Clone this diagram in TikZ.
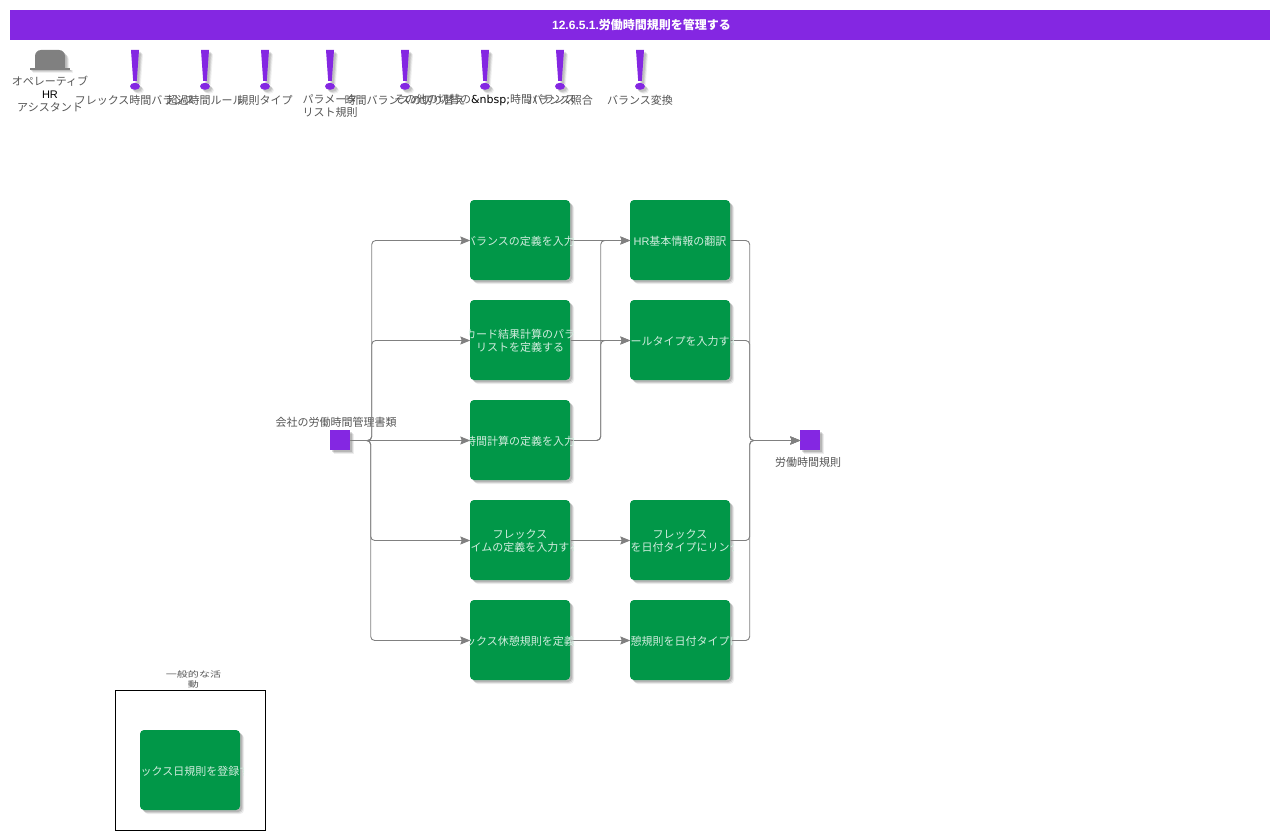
\documentclass[tikz,border=0pt]{standalone}
\usepackage{fontspec}
\setmainfont{Noto Sans CJK JP}
\newfontfamily\lat{Liberation Sans}
\newfontfamily\dej{DejaVu Sans}
\usetikzlibrary{arrows.meta,shadows}
\definecolor{purp}{HTML}{8427E2}
\definecolor{grn}{HTML}{019748}
\definecolor{lin}{HTML}{808080}
\definecolor{txt}{HTML}{555555}
\tikzset{x=1pt,y=-1pt,
 shd/.style={general shadow={shadow xshift=4pt,shadow yshift=-4pt,fill=black,opacity=.07},
             general shadow={shadow xshift=3pt,shadow yshift=-3pt,fill=black,opacity=.10},
             general shadow={shadow xshift=2pt,shadow yshift=-2pt,fill=black,opacity=.14}},
 task/.style={rectangle,rounded corners=4pt,fill=grn,minimum width=100pt,minimum height=80pt,inner sep=0pt,shd},
 tasktxt/.style={inner sep=0pt,text=white!82!grn,align=center,font=\fontsize{11}{13}\selectfont},
 ev/.style={rectangle,fill=purp,minimum size=20pt,inner sep=0pt,shd},
 lab/.style={text=txt,align=center,inner sep=0pt,font=\fontsize{11}{13}\selectfont},
 conn/.style={draw=lin,line width=.9pt,rounded corners=4pt,transform canvas={xshift=.5pt,yshift=-.5pt},-{Stealth[length=10pt,width=8pt,inset=1.5pt,color=lin]}},
}
% task box text, cut off at the box's sides as in the reference
\newcommand{\tasktext}[2]{%
 \begin{scope}
 \clip (#1.south west) rectangle ([xshift=3pt]#1.north east);
 \node[tasktxt,yshift=-1pt] (#1t) at (#1) {#2};
 \end{scope}}
\newcommand{\bang}[2]{%
 \foreach \d/\o in {2/.10,3/.10,4/.06}{
 \fill[black,opacity=\o] (#1-4+\d,50+\d)--(#1+4+\d,50+\d)--(#1+1.8+\d,81+\d)--(#1-1.8+\d,81+\d)--cycle;
 \fill[black,opacity=\o] (#1+\d,86.3+\d) ellipse [x radius=5,y radius=3.5];}
 \fill[purp] (#1-4,50)--(#1+4,50)--(#1+1.8,81)--(#1-1.8,81)--cycle;
 \fill[purp] (#1,86.3) ellipse [x radius=5,y radius=3.5];
 \coordinate (#2) at (#1,86);}
\begin{document}
\begin{tikzpicture}
\useasboundingbox (0,0) rectangle (1280,840);
\fill[white] (0,0) rectangle (1280,840);
\node[fill=purp,minimum width=1260pt,minimum height=30pt,inner sep=0pt,text=white,font=\fontsize{12}{14}\selectfont\bfseries] (title) at (640,25) {\hspace*{3pt}{\lat 12.6.5.1.}労働時間規則を管理する};
% actor
\foreach \d/\o in {2/.10,3/.10,4/.06}{
 \fill[black,opacity=\o,rounded corners=6pt] (35+\d,50+\d) rectangle (65+\d,72+\d);}
\fill[white] (30,70) rectangle (74,76);
\foreach \d/\o in {1/.12,2/.10,3/.06}{\fill[black,opacity=\o] (30+\d,70) rectangle (70+\d,70+\d);}
\begin{scope}
\clip (30,50) rectangle (70,68);
\fill[lin,rounded corners=6pt] (35,50) rectangle (65,76);
\end{scope}
\fill[lin] (30,68) rectangle (70,70);
\node[lab] (actor) at (50,94) {オペレーティブ\\{\lat\color{black}HR}\\アシスタント};
% indicators
\bang{135}{i1}\bang{205}{i2}\bang{265}{i3}\bang{330}{i4}\bang{405}{i5}\bang{485}{i6}\bang{560}{i7}\bang{640}{i8}
\node[lab] (l1) at (135,100) {フレックス時間バランス};
\node[lab] (l2) at (205,100) {超過時間ルール};
\node[lab] (l3) at (265,100) {規則タイプ};
\node[lab,anchor=north] (l4) at (330,94) {パラメータ\\リスト規則};
\node[lab] (l5) at (405,100) {時間バランスの切り替え};
\node[lab] (l6) at (485,100) {その他の切替の{\dej\color{black}\&nbsp;}時間バランス};
\node[lab] (l7) at (560,100) {バランス照合};
\node[lab] (l8) at (640,100) {バランス変換};
% events
\node[ev] (start) at (340,440) {};
\node[lab,anchor=south] (startl) at (336,428) {会社の労働時間管理書類};
\node[ev] (end) at (810,440) {};
\node[lab,anchor=north] (endl) at (808,457) {労働時間規則};
% tasks
\node[task] (a1) at (520,240) {};
\node[task] (a2) at (520,340) {};
\node[task] (a3) at (520,440) {};
\node[task] (a4) at (520,540) {};
\node[task] (a5) at (520,640) {};
\node[task] (b1) at (680,240) {};
\node[task] (b2) at (680,340) {};
\node[task] (b4) at (680,540) {};
\node[task] (b5) at (680,640) {};
% connectors
\draw[conn] (start.east) -- +(21,0) |- (a1.west);
\draw[conn] (start.east) -- +(21,0) |- (a2.west);
\draw[conn] (start.east) -- (a3.west);
\draw[conn] (start.east) -- +(20,0) |- (a4.west);
\draw[conn] (start.east) -- +(20,0) |- (a5.west);
\draw[conn] (a1.east) -- (b1.west);
\draw[conn] (a2.east) -- (b2.west);
\draw[conn] (a3.east) -- +(30,0) |- (b1.west);
\draw[conn] (a3.east) -- +(30,0) |- (b2.west);
\draw[conn] (a4.east) -- (b4.west);
\draw[conn] (a5.east) -- (b5.west);
\draw[conn] (b1.east) -- +(19,0) |- (end.west);
\draw[conn] (b2.east) -- +(19,0) |- (end.west);
\draw[conn] (b4.east) -- +(19,0) |- (end.west);
\draw[conn] (b5.east) -- +(19,0) |- (end.west);
% task texts
\tasktext{a1}{バランスの定義を入力}
\tasktext{a2}{カード結果計算のパラ\\リストを定義する}
\tasktext{a3}{時間計算の定義を入力}
\tasktext{a4}{フレックス\\イムの定義を入力す\rlap{る}}
\tasktext{a5}{ックス休憩規則を定義}
\tasktext{b1}{{\lat HR}基本情報の翻訳}
\tasktext{b2}{ールタイプを入力す\rlap{る}}
\tasktext{b4}{フレックス\\を日付タイプにリン\rlap{ク}}
\tasktext{b5}{憩規則を日付タイプ\rlap{に}}
% general activities
\node[draw=black,line width=.8pt,minimum width=150pt,minimum height=140pt,inner sep=0pt] (grp) at (190.5,760.5) {};
\node[task] (g1) at (190,770) {};
\tasktext{g1}{ックス日規則を登録\rlap{す}}
\node[lab,anchor=south,font=\fontsize{8}{10}\selectfont] (grpl) at (193.5,688) {\scalebox{1.38}[1]{一般的な活}\\\scalebox{1.38}[1]{動}};
\end{tikzpicture}
\end{document}
